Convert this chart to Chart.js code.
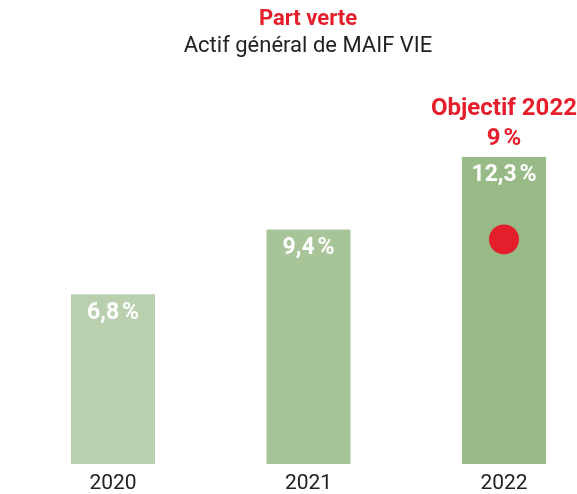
<!DOCTYPE html>
<html>
<head>
<meta charset="utf-8">
<script src="https://cdn.jsdelivr.net/npm/chart.js@4"></script>
<style>
  html, body { margin: 0; padding: 0; background: #fff; }
  #wrap { width: 577px; height: 494px; }
</style>
</head>
<body>
<div id="wrap"><canvas id="chart"></canvas></div>
<script>
// data
const years = ['2020', '2021', '2022'];
const partVerte = [6.8, 9.4, 12.3];
const objectifYear = '2022';
const objectif = 9;

const barColors = ['#b8d0ae', '#a8c59a', '#98ba87'];
const red = '#e41e2b';

function pct(v) {
    return v.toLocaleString('fr-FR') + '\u202f%';
}

// labels inside the bars and the objective caption
const labelsPlugin = {
    id: 'labels',
    afterDatasetsDraw(chart) {
        const ctx = chart.ctx;
        const x = chart.scales.x;
        const y = chart.scales.y;
        ctx.save();
        ctx.textAlign = 'center';
        ctx.textBaseline = 'middle';
        ctx.fillStyle = '#fff';
        ctx.font = 'bold 23px Roboto';
        partVerte.forEach((v, i) => {
            ctx.fillText(pct(v), x.getPixelForValue(i), y.getPixelForValue(v) + 18.5);
        });
        const oi = years.indexOf(objectifYear);
        const top = y.getPixelForValue(partVerte[oi]);
        ctx.fillStyle = red;
        ctx.font = 'bold 24px Roboto';
        ctx.fillText('Objectif ' + objectifYear, x.getPixelForValue(oi), top - 48);
        ctx.fillText(pct(objectif), x.getPixelForValue(oi), top - 18);
        ctx.restore();
    }
};

new Chart(document.getElementById('chart'), {
    type: 'bar',
    data: {
        datasets: [{
            type: 'scatter',
            data: [{ x: years.indexOf(objectifYear), y: objectif }],
            backgroundColor: red,
            borderWidth: 0,
            pointRadius: 15,
            pointHoverRadius: 15
        }, {
            data: partVerte.map((v, i) => ({ x: i, y: v })),
            backgroundColor: barColors,
            borderWidth: 0,
            barPercentage: 0.43,
            categoryPercentage: 1
        }]
    },
    plugins: [labelsPlugin],
    options: {
        responsive: true,
        maintainAspectRatio: false,
        animation: false,
        events: [],
        layout: { padding: { left: 39, right: 0, top: 4, bottom: -10 } },
        scales: {
            x: {
                type: 'linear',
                offset: false,
                min: -0.3785,
                max: 2.2967,
                grid: { display: false, drawTicks: false },
                border: { display: false },
                afterBuildTicks: s => { s.ticks = years.map((_, i) => ({ value: i })); },
                ticks: {
                    padding: 9,
                    color: '#222',
                    font: { family: 'Roboto', size: 21, lineHeight: 1.05 },
                    callback: v => years[v]
                }
            },
            y: {
                display: false,
                min: 0,
                max: 16.2
            }
        },
        plugins: {
            legend: { display: false },
            tooltip: { enabled: false },
            title: {
                display: true,
                text: 'Part verte',
                color: red,
                font: { family: 'Roboto', size: 22, weight: 'bold' },
                padding: { top: 2, bottom: 1 }
            },
            subtitle: {
                display: true,
                text: 'Actif général de MAIF VIE',
                color: '#222',
                font: { family: 'Roboto', size: 22 },
                padding: { top: 0, bottom: 0 }
            }
        }
    }
});
</script>
</body>
</html>
